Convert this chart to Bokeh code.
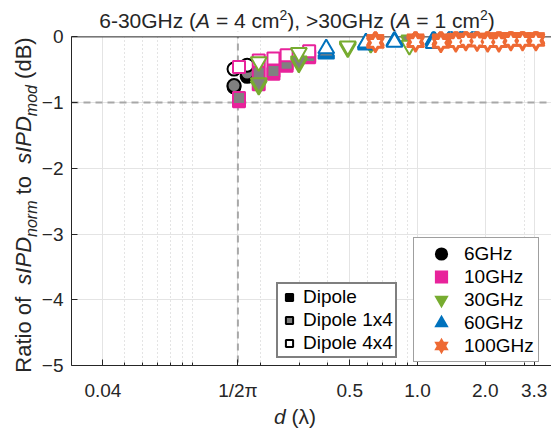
import math
from bokeh.plotting import figure
from bokeh.layouts import column, row
from bokeh.models import FixedTicker, Span, Legend, LegendItem, BoxAnnotation, Div
from bokeh.embed import file_html
from bokeh.resources import INLINE

# ---------------- data ----------------
freq_labels = ["6GHz", "10GHz", "30GHz", "60GHz", "100GHz"]
antenna_labels = ["Dipole", "Dipole 1x4", "Dipole 4x4"]

d_6GHz = [0.153, 0.175]
dipole_6GHz = [-0.76, -0.60]
dipole1x4_6GHz = [-0.74, -0.55]
dipole4x4_6GHz = [-0.49, -0.43]

d_10GHz = [0.161, 0.197, 0.229, 0.262, 0.33]
dipole_10GHz = [-0.98, -0.72, -0.56, -0.44, -0.31]
dipole1x4_10GHz = [-0.93, -0.55, -0.52, -0.41, -0.29]
dipole4x4_10GHz = [-0.46, -0.36, -0.33, -0.28, -0.22]

d_30GHz = [0.197, 0.297, 0.49, 0.62, 0.92]
dipole_30GHz = [-0.74, -0.40, -0.17, -0.10, -0.06]
dipole1x4_30GHz = [-0.70, -0.37, -0.15, -0.09, -0.05]
dipole4x4_30GHz = [-0.38, -0.24, -0.14, -0.09, -0.13]

d_60GHz = [0.393, 0.59, 0.79, 1.18, 1.40, 1.57, 1.78]
dipole_60GHz = [-0.26, -0.12, -0.06, -0.04, -0.02, -0.01, -0.01]
dipole1x4_60GHz = [-0.23, -0.10, -0.07, -0.06, -0.03, -0.03, -0.02]
dipole4x4_60GHz = [-0.18, -0.09, -0.08, -0.10, -0.04, -0.05, -0.03]

d_100GHz = [0.65, 0.98, 1.27, 1.48, 1.64, 1.84, 2.05, 2.30, 2.60, 2.93, 3.36]
dipole_100GHz = [-0.04, -0.03, -0.03, -0.02, -0.02, -0.02, -0.02, -0.01, -0.01, -0.01, -0.01]
dipole1x4_100GHz = [-0.06, -0.05, -0.05, -0.04, -0.04, -0.04, -0.04, -0.03, -0.03, -0.03, -0.03]
dipole4x4_100GHz = [-0.09, -0.08, -0.09, -0.08, -0.06, -0.07, -0.08, -0.08, -0.06, -0.06, -0.06]

x_tick_values = [0.04, 1 / (2 * math.pi), 0.5, 1.0, 2.0, 3.3]
x_tick_labels = ["0.04", "1/2\u03c0", "0.5", "1.0", "2.0", "3.3"]
x_minor_values = [0.05, 0.06, 0.07, 0.08, 0.09, 0.1, 0.2, 0.3, 0.4, 0.6, 0.7, 0.8, 0.9, 3.0]
y_tick_values = [-5, -4, -3, -2, -1, 0]
ref_d = 1 / (2 * math.pi)
ref_db = -1

# ---------------- style ----------------
FONT = "Liberation Sans"
TXT = "#262626"
freq_colors = ["#000000", "#e8239b", "#77ac30", "#0072bd", "#ee6a34"]
freq_markers = ["circle", "square", "inverted_triangle", "triangle", "hexagram"]
freq_sizes = [13, 12, 16, 16, 17]
antenna_fills = [None, "#808080", "#ffffff"]  # None -> frequency colour

series = [
    (d_6GHz, [dipole_6GHz, dipole1x4_6GHz, dipole4x4_6GHz]),
    (d_10GHz, [dipole_10GHz, dipole1x4_10GHz, dipole4x4_10GHz]),
    (d_30GHz, [dipole_30GHz, dipole1x4_30GHz, dipole4x4_30GHz]),
    (d_60GHz, [dipole_60GHz, dipole1x4_60GHz, dipole4x4_60GHz]),
    (d_100GHz, [dipole_100GHz, dipole1x4_100GHz, dipole4x4_100GHz]),
]

# layout geometry (pixels)
TOTAL_W, TOTAL_H = 551, 430
TITLE_H, XLAB_H, YLAB_W = 25, 25, 38
FIG_W, FIG_H = TOTAL_W - YLAB_W, TOTAL_H - TITLE_H - XLAB_H

p = figure(width=FIG_W, height=FIG_H, x_axis_type="log", x_range=(0.029, 3.94),
           y_range=(-5, 0.082), output_backend="svg", toolbar_location=None, title=None,
           min_border_left=33, min_border_right=0, min_border_top=6, min_border_bottom=40)
p.outline_line_color = None
p.background_fill_color = "white"
p.border_fill_color = None

# axes
xa = p.xaxis[0]
xa.ticker = FixedTicker(ticks=x_tick_values, minor_ticks=x_minor_values)
xa.major_label_overrides = {v: s for v, s in zip(x_tick_values, x_tick_labels)}
xa.major_tick_in = 6
xa.major_tick_out = 0
xa.minor_tick_in = 3
xa.minor_tick_out = 0
xa.major_label_standoff = 14
xa.major_label_text_font = FONT
xa.major_label_text_font_size = "19px"
xa.major_label_text_color = TXT
xa.axis_line_color = TXT
xa.major_tick_line_color = TXT
xa.minor_tick_line_color = TXT

ya = p.yaxis[0]
ya.ticker = FixedTicker(ticks=y_tick_values)
ya.bounds = (-5, 0)
ya.major_tick_in = 6
ya.major_tick_out = 0
ya.minor_tick_line_color = None
ya.major_label_standoff = 8
ya.major_label_text_font = FONT
ya.major_label_text_font_size = "19px"
ya.major_label_text_color = TXT
ya.axis_line_color = TXT
ya.major_tick_line_color = TXT

# grids
p.xgrid.grid_line_color = "#e4e4e4"
p.xgrid.minor_grid_line_color = "#c8c8c8"
p.xgrid.minor_grid_line_dash = "1 3"
p.ygrid.grid_line_color = "#e4e4e4"

# reference lines
p.add_layout(Span(location=ref_db, dimension="width", line_color="#a8a8a8",
                  line_width=2, line_dash="7 5", level="underlay"))
p.add_layout(Span(location=ref_d, dimension="height", line_color="#a8a8a8",
                  line_width=2, line_dash="7 5", level="underlay"))
# blank strip above 0 dB (markers may overlap it) and the top border at 0 dB
p.add_layout(BoxAnnotation(bottom=0, fill_color="white", fill_alpha=1.0,
                           line_color=None, level="underlay"))
p.add_layout(Span(location=0, dimension="width", line_color=TXT, line_width=1,
                  level="underlay"))


def draw(xs, ys, marker, color, fill, size):
    if marker != "hexagram":
        p.scatter(xs, ys, marker=marker, size=size, line_color=color, line_width=2,
                  fill_color=fill)
        return
    hollow = fill != color
    for m in ("triangle", "inverted_triangle"):
        p.scatter(xs, ys, marker=m, size=size, line_color=color,
                  line_width=2 if hollow else 1, fill_color=color)
    if hollow:
        for m in ("triangle", "inverted_triangle"):
            p.scatter(xs, ys, marker=m, size=size - 7, line_color=None, fill_color=fill)


for fi, (xs, ys_list) in enumerate(series):
    for ai, ys in enumerate(ys_list):
        draw(xs, ys, freq_markers[fi], freq_colors[fi], antenna_fills[ai] or freq_colors[fi],
             freq_sizes[fi])

# legend proxies (hidden renderers, shown only as legend keys)
freq_items = []
for fi, (xs, ys_list) in enumerate(series):
    c = freq_colors[fi]
    mk = freq_markers[fi]
    if mk == "hexagram":
        rs = [p.scatter(xs, ys_list[0], marker=m, size=10, line_color=c, line_width=3,
                        line_join="miter", fill_color=c, visible=False)
              for m in ("triangle", "inverted_triangle")]
    else:
        lw = 3 if "triangle" in mk else 4
        rs = [p.scatter(xs, ys_list[0], marker=mk, size=10, line_color=c, line_width=lw,
                        line_join="miter", fill_color=c, visible=False)]
    freq_items.append(LegendItem(label=freq_labels[fi], renderers=rs))

ant_items = []
for ai, lab in enumerate(antenna_labels):
    r = p.scatter(d_6GHz, series[0][1][ai], marker="square", size=8, line_color="black",
                  line_width=2, fill_color=antenna_fills[ai] or "black", visible=False)
    ant_items.append(LegendItem(label=lab, renderers=[r]))

leg_f = Legend(items=freq_items, location=(342, 3), glyph_width=46, glyph_height=23,
               spacing=0, padding=4, label_standoff=0, margin=0,
               border_line_color="#404040", border_line_width=1,
               label_text_font=FONT, label_text_font_size="19px", label_text_color="black",
               background_fill_color="white", background_fill_alpha=1.0, inactive_fill_alpha=0)
leg_a = Legend(items=ant_items, location=(205, 7), glyph_width=18, glyph_height=18,
               spacing=1, padding=2, label_standoff=5, margin=0,
               border_line_color="black", border_line_width=2,
               label_text_font=FONT, label_text_font_size="19px", label_text_color="black",
               background_fill_color="white", background_fill_alpha=1.0, inactive_fill_alpha=0)
p.add_layout(leg_f)
p.add_layout(leg_a)

# ---------------- title and axis labels (rich text) ----------------
def css(size):
    return (f"font-family:'{FONT}'; font-size:{size}px; line-height:{size}px; "
            f"color:{TXT}; white-space:nowrap;")


SUP = "font-size:14px; line-height:0; vertical-align:8px;"
SUB = "font-size:16px; line-height:0; vertical-align:-6px;"

title_html = (
    f'<div style="position:relative; overflow:visible; width:{TOTAL_W}px; height:{TITLE_H}px;">'
    f'<div style="position:absolute; left:297px; top:10px; transform:translateX(-50%); {css(21)}">'
    f'6-30GHz (<i>A</i> = 4 cm<sup style="{SUP}">2</sup>), &gt;30GHz '
    f'(<i>A</i> = 1 cm<sup style="{SUP}">2</sup>)</div></div>'
)
ylab_html = (
    f'<div style="position:relative; width:{YLAB_W}px; height:{FIG_H}px;">'
    f'<div style="position:absolute; left:24px; top:{205 - TITLE_H}px; '
    f'transform:translate(-50%,-50%) rotate(-90deg); {css(22)}">'
    f'Ratio of&nbsp; <i>sIPD</i><sub style="{SUB}"><i>norm</i></sub> to&nbsp; '
    f'<i>sIPD</i><sub style="{SUB}"><i>mod</i></sub> (dB)</div></div>'
)
xlab_html = (
    f'<div style="position:relative; width:{TOTAL_W}px; height:{XLAB_H}px;">'
    f'<div style="position:absolute; left:295px; top:1px; transform:translateX(-50%); {css(21)}">'
    f'<i>d</i> (\u03bb)</div></div>'
)

title_div = Div(text=title_html, width=TOTAL_W, height=TITLE_H, margin=0,
                styles={"overflow": "visible", "z-index": "0"})
ylab_div = Div(text=ylab_html, width=YLAB_W, height=FIG_H, margin=0)
xlab_div = Div(text=xlab_html, width=TOTAL_W, height=XLAB_H, margin=0)

layout = column(title_div, row(ylab_div, p, spacing=0, margin=0), xlab_div, spacing=0, margin=0)

open("out.html", "w").write(file_html(layout, INLINE))
